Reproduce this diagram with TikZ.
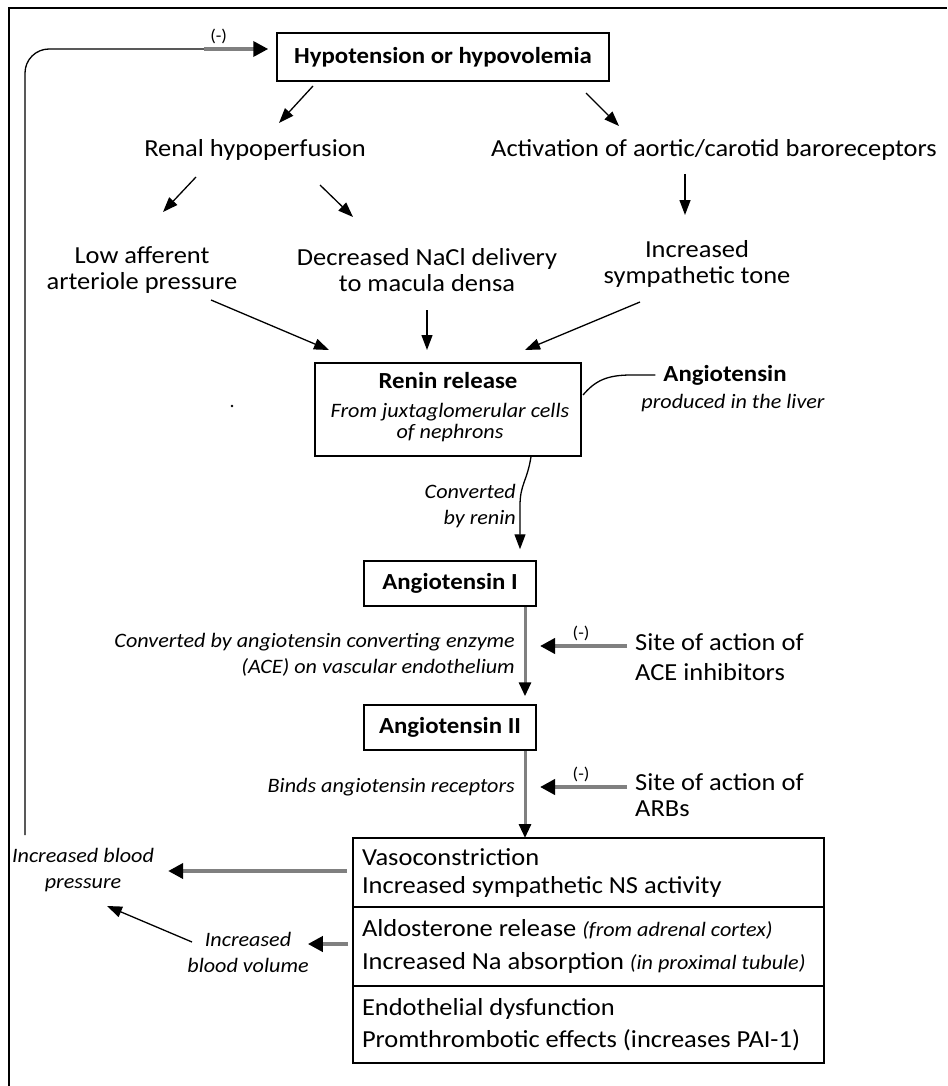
\documentclass[tikz,border=0pt]{standalone}
\usepackage{fontspec}
\setmainfont{Carlito}[FakeStretch=1.08]
\usetikzlibrary{arrows.meta,positioning,calc}

\begin{document}
\begin{tikzpicture}[
  x=1pt, y=-1pt,
  font=\fontsize{24.5}{26}\selectfont,
  >={Triangle[length=15pt,width=11pt]},
  box/.style={draw, line width=1.5pt, inner sep=0pt},
  boxtitle/.style={inner sep=2pt, font=\fontsize{23}{26}\selectfont\bfseries},
  txt/.style={align=center, inner sep=2pt},
  note/.style={align=right, inner sep=2pt, font=\fontsize{20.5}{26}\selectfont\itshape},
  arr/.style={->, line width=1.3pt},
  block/.style={draw=gray, line width=4.5pt, -{Triangle[length=15pt,width=15pt,black]}},
  axisline/.style={draw=gray, line width=3pt, -{Triangle[length=14pt,width=12pt,black]}},
  minus/.style={font=\fontsize{17}{17}\selectfont, inner sep=3pt},
  effect/.style={draw, line width=1.5pt, minimum width=471pt, text width=453pt, align=flush left, inner xsep=9pt, outer sep=0pt},
]
\useasboundingbox (0,0) rectangle (947,1086);

% frame
\draw[line width=1.5pt] (9,1086) -- (9,8) -- (947,8);

% top
\node[box, minimum width=332pt, minimum height=48pt, boxtitle] (hypo) at (443,57) {Hypotension or hypovolemia};
\node[txt] (renal) at (255,150) {Renal hypoperfusion};
\node[txt] (baro) at (714,150) {Activation of aortic/carotid baroreceptors};
\node[txt] (afferent) at (142,270) {Low afferent\\arteriole pressure};
\node[txt] (nacl) at (427,270) {Decreased NaCl delivery\\to macula densa};
\node[txt] (symp) at (697,264) {Increased\\sympathetic tone};

\draw[arr] ($(hypo)+(-130,29)$) -- ($(renal)+(24,-27)$);
\draw[arr] ($(hypo)+(143,36)$) -- ($(baro)+(-95,-24)$);
\draw[arr] ($(renal)+(-59,27)$) -- ($(afferent)+(21,-58)$);
\draw[arr] ($(renal)+(65,35)$) -- ($(nacl)+(-74,-53)$);
\draw[arr] ($(baro)+(-29,24)$) -- ($(symp)+(-12,-49)$);

% renin
\node[box, minimum width=266pt, minimum height=93pt] (renin) at (448,409.5) {};
\node[boxtitle] (renintitle) at (448,381) {Renin release};
\node[note, align=center, font=\fontsize{20.5}{21}\selectfont\itshape] (reninsrc) at (450,423) {From juxtaglomerular cells\\of nephrons};

\draw[arr] ($(afferent)+(69,30)$) -- ($(renin)+(-119,-59.5)$);
\draw[arr] ($(nacl)+(0,40)$) -- ($(renin)+(-21,-59.5)$);
\draw[arr] ($(symp)+(-57,38)$) -- ($(renin)+(77,-59.5)$);

\node[boxtitle] (angtext) at (725,375) {Angiotensin};
\node[note, align=center] (liver) at (733,403) {produced in the liver};
\draw[line width=1.3pt, shorten <=6pt] (angtext.west) -- ++(-30,0) .. controls +(-25,0) and +(12,-14) .. ($(renin)+(135,-14.5)$);
\fill (232,406) circle (1.3pt);

% angiotensin I and II
\coordinate (axis) at (525,0);
\coordinate (bend) at (520,506);
\node[box, minimum width=172pt, minimum height=45pt, boxtitle] (angI) at (450,583.5) {Angiotensin I};
\node[box, minimum width=172pt, minimum height=45pt, boxtitle] (angII) at (450,727.5) {Angiotensin II};

\draw[arr, shorten >=11pt] ($(renin.south)+(83,0)$) .. controls +(-4,25) and +(0,-22) .. (bend) -- (angI.north -| bend);
\node[note, anchor=east] (byrenin) at (518,506) {Converted\\by renin};

\draw[axisline, shorten >=8pt] (angI.south -| axis) -- (angII.north -| axis);
\node[note, anchor=east] (acenote) at (517,655) {Converted by angiotensin converting enzyme\\(ACE) on vascular endothelium};
\node[txt, align=left, anchor=west, font=\fontsize{24.5}{30}\selectfont] (acesite) at (633,657) {Site of action of\\ACE inhibitors};
\draw[block, shorten >=15pt] ($(acesite.west)+(-6,-11)$) coordinate (aceA) -- (aceA -| axis) node[pos=0.45, above, minus] {(-)};

% effects
\node[effect, minimum height=69pt, font=\fontsize{24.5}{28}\selectfont] (vaso) at (588.5,872.5) {Vasoconstriction\\Increased sympathetic NS activity};
\node[effect, minimum height=79pt, font=\fontsize{24.5}{33}\selectfont, below=0pt of vaso] (aldo) {Aldosterone release {\fontsize{20.5}{33}\selectfont\itshape(from adrenal cortex)}\\Increased Na absorption {\fontsize{20.5}{33}\selectfont\itshape(in proximal tubule)}};
\node[effect, minimum height=77pt, font=\fontsize{24.5}{32}\selectfont, below=0pt of aldo] (endo) {Endothelial dysfunction\\Promthrombotic effects (increases PAI-1)\\[6pt]};

\draw[axisline] (angII.south -| axis) -- (vaso.north -| axis);
\node[note, anchor=east] (binds) at (517,787) {Binds angiotensin receptors};
\node[txt, align=left, anchor=west] (arbsite) at (633,795) {Site of action of\\ARBs};
\draw[block, shorten >=15pt] ($(arbsite.west)+(-6,-8)$) coordinate (arbA) -- (arbA -| axis) node[pos=0.45, above, minus] {(-)};

% feedback
\node[note, align=center] (bp) at (83,870) {Increased blood\\pressure};
\node[note, align=center] (vol) at (248,952.5) {Increased\\blood volume};
\draw[block, shorten <=6pt, shorten >=12pt] ($(vaso.west)+(0,-1.5)$) coordinate (vasoA) -- (vasoA -| bp.east);
\draw[block, shorten <=5pt, shorten >=-3pt] ($(aldo.west)+(0,-2.5)$) coordinate (aldoA) -- (aldoA -| vol.east);
\draw[arr] ($(vol)+(-56,-10.5)$) -- ($(bp)+(24,36)$);

\coordinate (fb) at (25,835);
\draw[line width=1.3pt, rounded corners=24pt] (fb) |- ($(hypo.west)+(-72,-8)$) coordinate (fbA);
\draw[block, line width=3.5pt, shorten >=8pt] (fbA) -- (fbA -| hypo.west) node[pos=0.2, above, minus] {(-)};
\end{tikzpicture}
\end{document}
